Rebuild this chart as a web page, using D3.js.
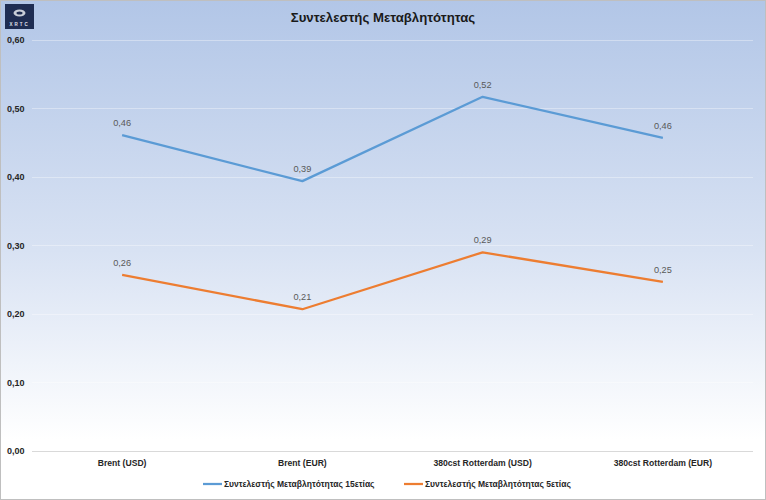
<!DOCTYPE html>
<html><head><meta charset="utf-8">
<script src="https://cdn.jsdelivr.net/npm/d3@7"></script>
<style>body{margin:0;padding:0;overflow:hidden;background:#fff}svg{display:block}</style>
</head><body>
<svg id="c" width="766" height="500"></svg>
<script>
const categories = ["Brent (USD)", "Brent (EUR)", "380cst Rotterdam (USD)", "380cst Rotterdam (EUR)"];
const series15 = [0.461, 0.394, 0.517, 0.457];
const series5 = [0.257, 0.207, 0.290, 0.247];
const seriesNames = ["Συντελεστής Μεταβλητότητας 15ετίας", "Συντελεστής Μεταβλητότητας 5ετίας"];
const yTicks = [0, 0.1, 0.2, 0.3, 0.4, 0.5, 0.6];
const title = "Συντελεστής Μεταβλητότητας";

const svg = d3.select("#c");
const W = 766, H = 500;
const font = "'Liberation Sans', Arial, sans-serif";

const defs = svg.append("defs");
const g = defs.append("linearGradient").attr("id","bg").attr("x1",0).attr("y1",0).attr("x2",0).attr("y2",1);
g.append("stop").attr("offset","0%").attr("stop-color","#b2c6e7");
g.append("stop").attr("offset","50%").attr("stop-color","#d8e2f3");
g.append("stop").attr("offset","88%").attr("stop-color","#ffffff");
g.append("stop").attr("offset","100%").attr("stop-color","#ffffff");

svg.append("rect").attr("x",0.5).attr("y",0.5).attr("width",W-1).attr("height",H-1)
  .attr("fill","url(#bg)").attr("stroke","#bfbfbf");

const x = d3.scaleBand().domain(categories).range([32, 753]);
const y = d3.scaleLinear().domain([0, 0.6]).range([451, 40]);
const cx = d => x(d) + x.bandwidth()/2;

// gridlines
svg.append("g").selectAll("line").data(yTicks).join("line")
  .attr("x1",32).attr("x2",753).attr("y1",d=>y(d)).attr("y2",d=>y(d))
  .attr("stroke", d=> d===0 ? "#d9d9d9" : "#ffffff").attr("stroke-opacity", d=> d===0 ? 1 : 0.35)
  .attr("stroke-width",1).attr("shape-rendering","crispEdges");

// y axis labels
const fmt = d => d3.format(".2f")(d).replace(".", ",");
svg.append("g").selectAll("text").data(yTicks).join("text")
  .attr("x",7).attr("y",d=>y(d)+3).attr("font-family",font).attr("font-size",9)
  .attr("font-weight","bold").attr("fill","#262626").text(fmt);

// x axis labels
svg.append("g").selectAll("text").data(categories).join("text")
  .attr("x",d=>cx(d)).attr("y",466).attr("text-anchor","middle")
  .attr("font-family",font).attr("font-size",8.6).attr("font-weight","bold").attr("fill","#262626").text(d=>d);

// title
svg.append("text").attr("x",383).attr("y",22).attr("text-anchor","middle")
  .attr("font-family",font).attr("font-size",13.2).attr("font-weight","bold").attr("fill","#1a1a1a").text(title);

// logo
const logo = svg.append("g");
logo.append("rect").attr("x",5).attr("y",4).attr("width",29).attr("height",25).attr("fill","#1f2d52");
logo.append("ellipse").attr("cx",19.5).attr("cy",13).attr("rx",6).attr("ry",3.5).attr("fill","#c9ced8");
logo.append("ellipse").attr("cx",19.5).attr("cy",13).attr("rx",3).attr("ry",1.5).attr("fill","#1f2d52");
logo.append("text").attr("x",19.5).attr("y",26).attr("text-anchor","middle").attr("font-family",font)
  .attr("font-size",4.5).attr("font-weight","bold").attr("fill","#e0e4ee").attr("letter-spacing",2).text("XRTC");

const colors = ["#5b9bd5", "#ed7d31"];
const line = d3.line().x((d,i)=>cx(categories[i])).y(d=>y(d));
[series15, series5].forEach((s, k) => {
  svg.append("path").datum(s).attr("d", line).attr("fill","none")
    .attr("stroke", colors[k]).attr("stroke-width",2.25).attr("stroke-linejoin","round");
  svg.append("g").selectAll("text").data(s).join("text")
    .attr("x",(d,i)=>cx(categories[i])).attr("y",d=>y(d)-9).attr("text-anchor","middle")
    .attr("font-family",font).attr("font-size",9.2).attr("fill","#595959").text(d=>fmt(d));
});

// legend
const legendX = [203, 404];
seriesNames.forEach((n,k)=>{
  svg.append("line").attr("x1",legendX[k]).attr("x2",legendX[k]+19).attr("y1",484).attr("y2",484)
    .attr("stroke",colors[k]).attr("stroke-width",2.25);
  svg.append("text").attr("x",legendX[k]+21).attr("y",487).attr("font-family",font).attr("font-size",8.5)
    .attr("font-weight","bold").attr("fill","#262626").text(n);
});
</script>
</body></html>
